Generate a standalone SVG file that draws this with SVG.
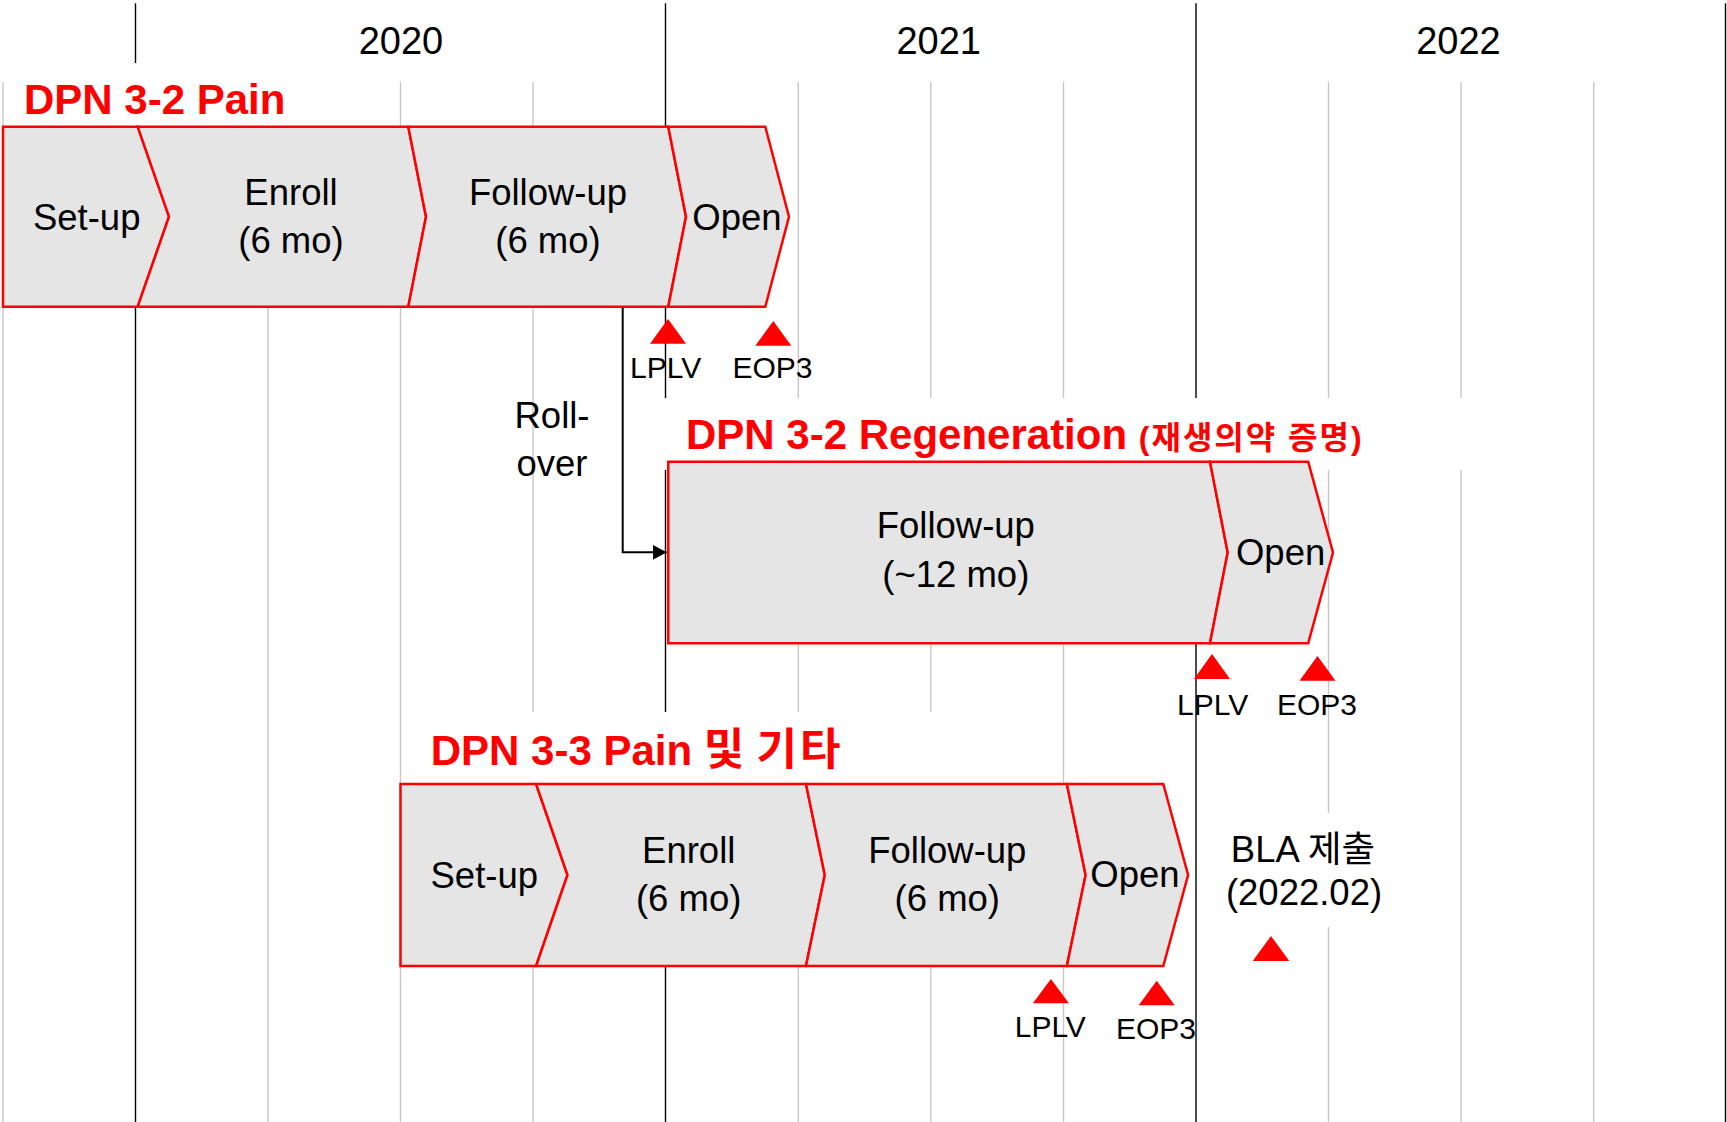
<svg xmlns="http://www.w3.org/2000/svg" width="1727" height="1122" viewBox="0 0 1727 1122">
<style>
.bg{fill:#ffffff}
.gl{stroke:#c8c8c8;stroke-width:1.4;fill:none}
.yl{stroke:#000000;stroke-width:1.4;fill:none}
.ph{fill:#e5e5e5;stroke:#ff0000;stroke-width:2.5;stroke-linejoin:miter}
.tri{fill:#ff0000}
.yr{font-family:"Liberation Sans","Noto Sans",sans-serif;font-size:38px;fill:#000;text-anchor:middle}
.tt{font-family:"Liberation Sans","Noto Sans CJK KR",sans-serif;font-size:42px;font-weight:bold;fill:#ff0000}
.lb{font-family:"Liberation Sans","Noto Sans CJK KR",sans-serif;font-size:36.5px;fill:#000;text-anchor:middle}
.mk{font-family:"Liberation Sans",sans-serif;font-size:30px;fill:#000;text-anchor:middle}
.cn{stroke:#000;stroke-width:2;fill:none}
</style>
<defs>
<marker id="ah" markerUnits="userSpaceOnUse" markerWidth="15" markerHeight="16" refX="14" refY="7.5" orient="auto">
<path d="M0,0 L14,7.5 L0,15 z" fill="#000"/>
</marker>
</defs>
<rect width="1727" height="1122" fill="#ffffff"/>
<g id="grid">
<line class="gl" x1="3" y1="81.7" x2="3" y2="1122"/>
<line class="yl" x1="135.5" y1="3.3" x2="135.5" y2="1122"/>
<line class="gl" x1="268" y1="81.7" x2="268" y2="1122"/>
<line class="gl" x1="400.5" y1="81.7" x2="400.5" y2="1122"/>
<line class="gl" x1="533" y1="81.7" x2="533" y2="1122"/>
<line class="yl" x1="665.5" y1="3.3" x2="665.5" y2="1122"/>
<line class="gl" x1="798.3" y1="81.7" x2="798.3" y2="1122"/>
<line class="gl" x1="930.8" y1="81.7" x2="930.8" y2="1122"/>
<line class="gl" x1="1063.5" y1="81.7" x2="1063.5" y2="1122"/>
<line class="yl" x1="1196" y1="3.3" x2="1196" y2="1122"/>
<line class="gl" x1="1328.5" y1="81.7" x2="1328.5" y2="1122"/>
<line class="gl" x1="1461" y1="81.7" x2="1461" y2="1122"/>
<line class="gl" x1="1593.7" y1="81.7" x2="1593.7" y2="1122"/>
<line class="yl" x1="1725.5" y1="3.3" x2="1725.5" y2="1122"/>
</g>
<g id="years">
<text class="yr" x="401" y="54">2020</text>
<text class="yr" x="938.7" y="54">2021</text>
<text class="yr" x="1458.5" y="54">2022</text>
</g>
<g id="backdrops">
<rect class="bg" x="12" y="63" width="290" height="63"/>
<rect class="bg" x="655" y="398" width="820" height="72"/>
<rect class="bg" x="415" y="712" width="535" height="72"/>
<rect class="bg" x="1215" y="813" width="180" height="114"/>
</g>
<g id="dpn32-pain">
<text class="tt" x="24" y="114.3">DPN 3-2 Pain</text>
<g id="p1-setup">
<polygon class="ph" points="3,126.7 137.7,126.7 169,216.7 137.7,306.7 3,306.7"/>
<text class="lb" x="86.7" y="230">Set-up</text>
</g>
<g id="p1-enroll">
<polygon class="ph" points="137.7,126.7 408.3,126.7 426,216.7 408.3,306.7 137.7,306.7 169,216.7"/>
<text class="lb" x="291" y="205">Enroll</text>
<text class="lb" x="291" y="253.3">(6 mo)</text>
</g>
<g id="p1-follow">
<polygon class="ph" points="408.3,126.7 668.3,126.7 686,216.7 668.3,306.7 408.3,306.7 426,216.7"/>
<text class="lb" x="548" y="205">Follow-up</text>
<text class="lb" x="548" y="253.3">(6 mo)</text>
</g>
<g id="p1-open">
<polygon class="ph" points="668.3,126.7 765.3,126.7 789,216.7 765.3,306.7 668.3,306.7 686,216.7"/>
<text class="lb" x="737" y="230">Open</text>
</g>
</g>
<g id="dpn32-regen">
<text class="tt" x="686" y="449.3">DPN 3-2 Regeneration <tspan font-size="32px" letter-spacing="2">(재생의약 증명)</tspan></text>
<g id="p2-follow">
<polygon class="ph" points="668.3,461.7 1210,461.7 1227.7,552.5 1210,643.3 668.3,643.3"/>
<text class="lb" x="955.8" y="538.3">Follow-up</text>
<text class="lb" x="955.8" y="586.7">(~12 mo)</text>
</g>
<g id="p2-open">
<polygon class="ph" points="1210,461.7 1308.2,461.7 1333,552.5 1308.2,643.3 1210,643.3 1227.7,552.5"/>
<text class="lb" x="1280.6" y="565">Open</text>
</g>
</g>
<g id="dpn33-pain">
<text class="tt" x="430.7" y="764.7">DPN 3-3 Pain <tspan font-size="44px">및 </tspan><tspan font-size="44px" letter-spacing="3">기타</tspan></text>
<g id="p3-setup">
<polygon class="ph" points="400.5,784 536.1,784 567.5,875 536.1,966 400.5,966"/>
<text class="lb" x="484.3" y="888.3">Set-up</text>
</g>
<g id="p3-enroll">
<polygon class="ph" points="536.1,784 806,784 824.8,875 806,966 536.1,966 567.5,875"/>
<text class="lb" x="688.7" y="863.3">Enroll</text>
<text class="lb" x="688.7" y="911.3">(6 mo)</text>
</g>
<g id="p3-follow">
<polygon class="ph" points="806,784 1066.9,784 1085.6,875 1066.9,966 806,966 824.8,875"/>
<text class="lb" x="947.3" y="863.3">Follow-up</text>
<text class="lb" x="947.3" y="911.3">(6 mo)</text>
</g>
<g id="p3-open">
<polygon class="ph" points="1066.9,784 1163.3,784 1188.1,875 1163.3,966 1066.9,966 1085.6,875"/>
<text class="lb" x="1135" y="887.3">Open</text>
</g>
</g>
<g id="milestones">
<g id="m1-lplv"><polygon class="tri" points="650,343.7 686,343.7 668,319"/><text class="mk" x="665.7" y="377.7">LPLV</text></g>
<g id="m1-eop3"><polygon class="tri" points="755.3,345.7 791.3,345.7 773.3,321"/><text class="mk" x="772.5" y="377.7">EOP3</text></g>
<g id="m2-lplv"><polygon class="tri" points="1194,679 1230,679 1212,654"/><text class="mk" x="1212.6" y="715">LPLV</text></g>
<g id="m2-eop3"><polygon class="tri" points="1299.5,680.7 1335.5,680.7 1317.5,656"/><text class="mk" x="1317" y="715">EOP3</text></g>
<g id="m3-lplv"><polygon class="tri" points="1032.9,1003.3 1068.9,1003.3 1050.9,979"/><text class="mk" x="1050.3" y="1036.7">LPLV</text></g>
<g id="m3-eop3"><polygon class="tri" points="1138.7,1005.3 1174.7,1005.3 1156.7,980.7"/><text class="mk" x="1156" y="1039.3">EOP3</text></g>
<g id="bla">
<text class="lb" x="1303" y="861.7">BLA 제출</text>
<text class="lb" x="1304" y="905">(2022.02)</text>
<polygon class="tri" points="1252.7,961 1289.3,961 1271,936"/>
</g>
</g>
<g id="connectors">
<path class="cn" d="M622.7,307.5 V552.3 H666.7" marker-end="url(#ah)"/>
<text class="lb" x="552" y="428.3">Roll-</text>
<text class="lb" x="552" y="475.7">over</text>
</g>
</svg>
